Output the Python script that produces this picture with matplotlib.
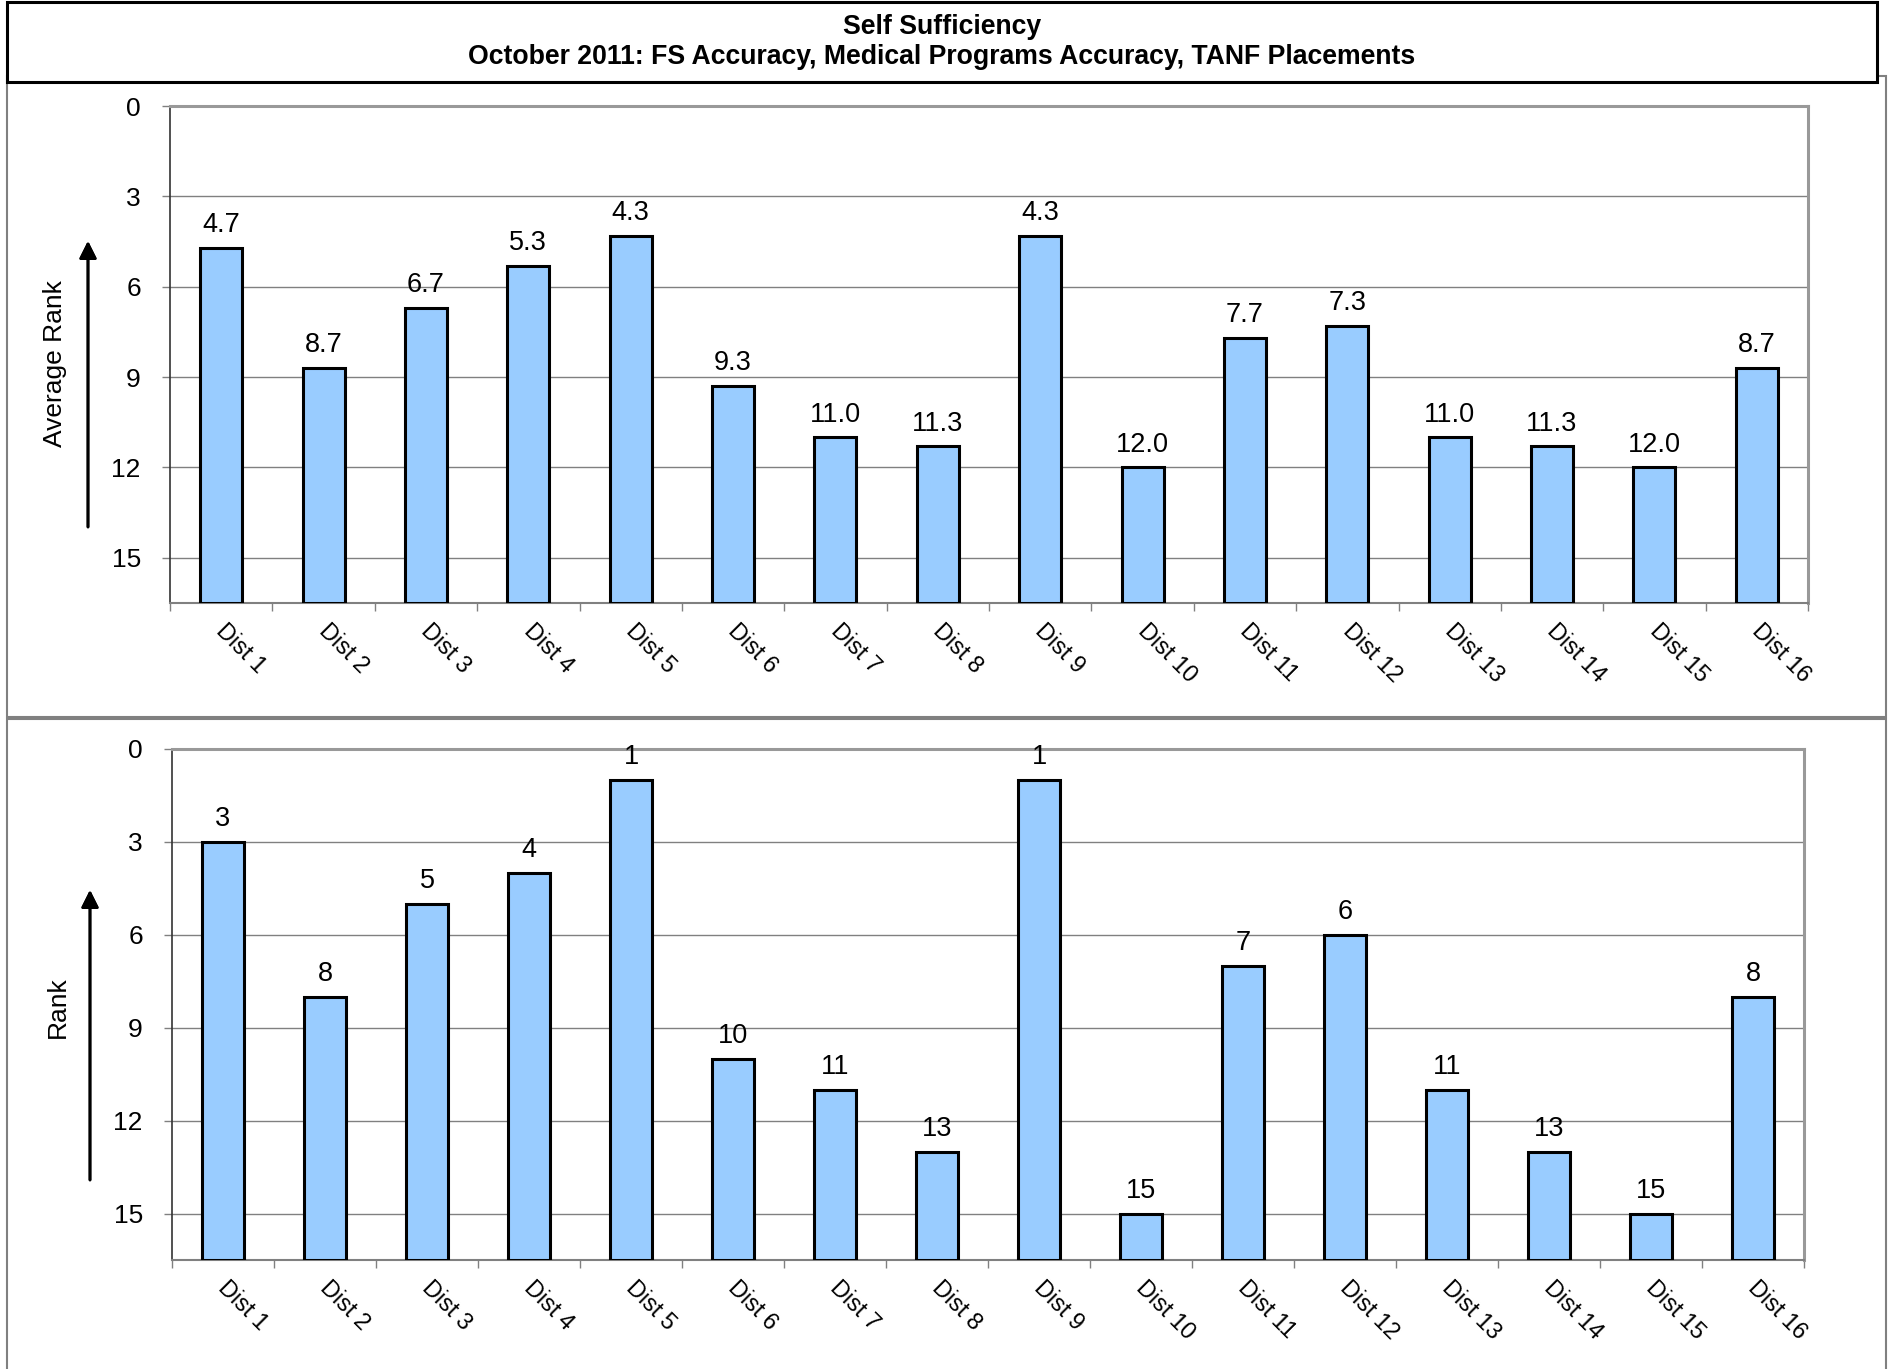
import numpy as np
import matplotlib.pyplot as plt
from matplotlib.patches import Rectangle
from matplotlib.transforms import ScaledTranslation

plt.rcParams['font.family'] = ['Liberation Sans', 'DejaVu Sans']

districts = ['Dist %d' % i for i in range(1, 17)]
avg_rank = [4.7, 8.7, 6.7, 5.3, 4.3, 9.3, 11.0, 11.3, 4.3, 12.0, 7.7, 7.3, 11.0, 11.3, 12.0, 8.7]
rank = [3, 8, 5, 4, 1, 10, 11, 13, 1, 15, 7, 6, 11, 13, 15, 8]
title_lines = ['Self Sufficiency',
               'October 2011: FS Accuracy, Medical Programs Accuracy, TANF Placements']

W, H = 1891, 1369
BAR_COLOR = '#99ccff'
YMAX = 16.5


def fx(px):
    return px / W


def fy(py):
    return 1 - py / H


def frame(fig, x0, y0, x1, y1, color, lw, face='none', z=0):
    r = Rectangle((fx(x0), fy(y1)), fx(x1) - fx(x0), fy(y0) - fy(y1),
                  transform=fig.transFigure, facecolor=face, edgecolor=color,
                  lw=lw, zorder=z)
    fig.patches.append(r)


def rank_panel(fig, rect, values, fmt, ylabel, label_xy, arrow):
    ax = fig.add_axes(rect)
    x = np.arange(len(values))
    v = np.array(values, dtype=float)
    ax.bar(x, YMAX - v, bottom=v, width=0.41, color=BAR_COLOR,
           edgecolor='black', lw=2.2, zorder=3)
    for xi, vi in zip(x, v):
        ax.annotate(fmt % vi, (xi, vi), xytext=(0, 7), textcoords='offset points',
                    ha='center', va='bottom', fontsize=19.5, clip_on=False, zorder=4)

    ax.set_xlim(-0.5, len(values) - 0.5)
    ax.set_ylim(YMAX, 0)
    ax.set_yticks([0, 3, 6, 9, 12, 15])
    ax.grid(axis='y', color='#808080', lw=1.0, zorder=1)
    ax.tick_params(axis='y', labelsize=19, length=6, width=1, color='#808080', pad=15)

    ax.set_xticks(x)
    ax.set_xticklabels(districts, rotation=-45, ha='left', va='top',
                       rotation_mode='anchor', fontsize=16.8)
    ax.set_xticks(np.arange(len(values) + 1) - 0.5, minor=True)
    ax.tick_params(axis='x', which='major', length=0, pad=12)
    ax.tick_params(axis='x', which='minor', length=6, width=1, color='#808080')
    shift = ScaledTranslation(5 / 72, 0, fig.dpi_scale_trans)
    for lbl in ax.get_xticklabels():
        lbl.set_transform(lbl.get_transform() + shift)

    ax.spines['top'].set_color('#999999')
    ax.spines['top'].set_linewidth(2.2)
    ax.spines['right'].set_color('#999999')
    ax.spines['right'].set_linewidth(2.2)
    ax.spines['left'].set_color('#333333')
    ax.spines['left'].set_linewidth(1.2)
    ax.spines['bottom'].set_color('#808080')
    ax.spines['bottom'].set_linewidth(1.5)

    fig.text(fx(label_xy[0]), fy(label_xy[1]), ylabel, rotation=90,
             ha='center', va='center', fontsize=19)
    ax_x, y_start, y_end = arrow
    fig.add_artist(plt.annotate('', xy=(fx(ax_x), fy(y_end)), xytext=(fx(ax_x), fy(y_start)),
                                xycoords='figure fraction', textcoords='figure fraction',
                                arrowprops=dict(arrowstyle='-|>', lw=2.0, color='black',
                                                mutation_scale=26, shrinkA=0, shrinkB=0)))
    return ax


fig = plt.figure(figsize=(W / 100, H / 100), dpi=100)

# panel frames
frame(fig, 7, 76, 1886, 717, '#808080', 1.5)
frame(fig, 7, 719, 1886, 1380, '#808080', 1.5)
# title box
frame(fig, 7, 2, 1877, 82, 'black', 2.2, face='white', z=5)
fig.text(0.498, fy(27), title_lines[0], ha='center', va='center',
         fontsize=19.2, fontweight='bold', zorder=6)
fig.text(0.498, fy(57), title_lines[1], ha='center', va='center',
         fontsize=19.2, fontweight='bold', zorder=6)

rank_panel(fig, [fx(170), fy(603), fx(1808) - fx(170), fy(106) - fy(603)],
           avg_rank, '%.1f', 'Average Rank', (55, 364), (88, 527, 241))
rank_panel(fig, [fx(172), fy(1260), fx(1804) - fx(172), fy(749) - fy(1260)],
           rank, '%d', 'Rank', (58, 1007), (90, 1180, 890))

fig.savefig('out.png', dpi=100)
